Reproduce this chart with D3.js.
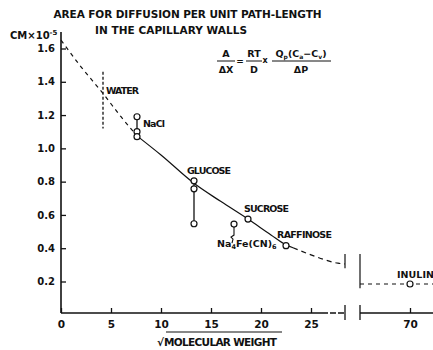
<!DOCTYPE html>
<html><head><meta charset="utf-8">
<script src="https://cdn.jsdelivr.net/npm/d3@7"></script>
<style>
body{margin:0;background:#fff;}
svg{display:block;}
text{font-family:"DejaVu Sans",sans-serif;font-weight:bold;fill:#111;}
</style></head>
<body>
<svg id="chart" width="433" height="350"></svg>
<script>
// ---- data ----
const titleLines = ["AREA FOR DIFFUSION PER UNIT PATH-LENGTH", "IN THE CAPILLARY WALLS"];
const yTicks = [0.2, 0.4, 0.6, 0.8, 1.0, 1.2, 1.4, 1.6];
const xTicksLeft = [0, 5, 10, 15, 20, 25];
const xTicksRight = [70];
const substances = ["NaCl", "GLUCOSE", "SUCROSE", "Na4Fe(CN)6", "RAFFINOSE", "INULIN"];
const sqrtMW = [7.6, 13.3, 18.7, 17.3, 22.5, 70];
const areaValues = [[1.19, 1.10, 1.07], [0.805, 0.757, 0.547], [0.575], [0.545], [0.415], [0.185]];
const waterX = 4.2;
const waterRange = [1.46, 1.12];
const curveDashedStart = [[0, 1.65], [2, 1.49], [4.2, 1.33], [6, 1.19], [7.6, 1.075]];
const curveSolid = [[7.6, 1.075], [10, 0.96], [13.3, 0.79], [16, 0.68], [18.7, 0.575], [21, 0.48], [22.5, 0.42], [23.2, 0.403]];
const curveDashedEnd = [[23.2, 0.403], [25, 0.36], [27.7, 0.31], [28.4, 0.305]];
const inulinLine = [[65, 0.185], [72.3, 0.185]];

const svg = d3.select("#chart");
const xL = d3.scaleLinear().domain([0, 28.4]).range([61, 345]);
const xR = d3.scaleLinear().domain([65, 72.3]).range([360, 433]);
const xAny = v => v > 40 ? xR(v) : xL(v);
const y = d3.scaleLinear().domain([0.2, 1.6]).range([281.5, 48.5]);
const axisY = 313;

// title
svg.append("text").attr("x", 187.5).attr("y", 18).attr("text-anchor", "middle")
  .attr("font-size", 10.5).attr("textLength", 268).attr("lengthAdjust", "spacing").text(titleLines[0]);
svg.append("text").attr("x", 171).attr("y", 34).attr("text-anchor", "middle")
  .attr("font-size", 10.5).attr("textLength", 152).attr("lengthAdjust", "spacing").text(titleLines[1]);

// y unit label
const yl = svg.append("text").attr("x", 10).attr("y", 39).attr("font-size", 10);
yl.append("tspan").text("CM×10");
yl.append("tspan").attr("font-size", 7).attr("dy", -4).text("-5");

// y axis
const gy = svg.append("g").attr("transform", "translate(61,0)")
  .call(d3.axisLeft(y).tickValues(yTicks).tickSize(-5).tickPadding(6).tickFormat(d3.format(".1f")));
gy.select(".domain").remove();
gy.selectAll("line").attr("stroke", "#111").attr("stroke-width", 1.3);
gy.selectAll("text").attr("font-size", 10).attr("font-family", "DejaVu Sans").attr("font-weight", "bold").attr("fill", "#111");
svg.append("line").attr("x1", 61).attr("x2", 61).attr("y1", 32).attr("y2", axisY).attr("stroke", "#111").attr("stroke-width", 1.6);

// x axis
const gxL = svg.append("g").attr("transform", `translate(0,${axisY})`)
  .call(d3.axisBottom(xL).tickValues(xTicksLeft).tickSize(-5).tickPadding(8));
const gxR = svg.append("g").attr("transform", `translate(0,${axisY})`)
  .call(d3.axisBottom(xR).tickValues(xTicksRight).tickSize(-5).tickPadding(8));
[gxL, gxR].forEach(g => {
  g.select(".domain").remove();
  g.selectAll("line").attr("stroke", "#111").attr("stroke-width", 1.3);
  g.selectAll("text").attr("font-size", 10.5).attr("font-family", "DejaVu Sans").attr("font-weight", "bold").attr("fill", "#111");
});
svg.append("line").attr("x1", 61).attr("x2", xL(26.1)).attr("y1", axisY).attr("y2", axisY).attr("stroke", "#111").attr("stroke-width", 1.6);
svg.append("line").attr("x1", xL(26.1)).attr("x2", xL(28.4)).attr("y1", axisY).attr("y2", axisY).attr("stroke", "#111").attr("stroke-width", 1.4).attr("stroke-dasharray", "6,2");
svg.append("line").attr("x1", xR(65)).attr("x2", 433).attr("y1", axisY).attr("y2", axisY).attr("stroke", "#111").attr("stroke-width", 1.6);
// axis break marks
[xL(28.4), xR(65)].forEach(px => {
  svg.append("line").attr("x1", px).attr("x2", px).attr("y1", axisY - 8).attr("y2", axisY + 7).attr("stroke", "#111").attr("stroke-width", 1.3);
});

// x axis title
const xt = svg.append("text").attr("x", 157).attr("y", 346).attr("font-size", 10.5);
xt.append("tspan").text("√");
xt.append("tspan").attr("textLength", 113).attr("lengthAdjust", "spacing").text("MOLECULAR WEIGHT");
svg.append("line").attr("x1", 166).attr("x2", 282).attr("y1", 332).attr("y2", 332).attr("stroke", "#111").attr("stroke-width", 1.2);

// curve
const line = d3.line().x(d => xL(d[0])).y(d => y(d[1])).curve(d3.curveMonotoneX);
svg.append("path").attr("d", line(curveDashedStart)).attr("fill", "none").attr("stroke", "#111").attr("stroke-width", 1.2).attr("stroke-dasharray", "4,4");
svg.append("path").attr("d", line(curveSolid)).attr("fill", "none").attr("stroke", "#111").attr("stroke-width", 1.2);
svg.append("path").attr("d", line(curveDashedEnd)).attr("fill", "none").attr("stroke", "#111").attr("stroke-width", 1.2).attr("stroke-dasharray", "5,4");
// curve break marks
svg.append("line").attr("x1", xL(28.4)).attr("x2", xL(28.4)).attr("y1", y(0.365)).attr("y2", y(0.28)).attr("stroke", "#111").attr("stroke-width", 1.2);
svg.append("line").attr("x1", xR(65)).attr("x2", xR(65)).attr("y1", y(0.365)).attr("y2", y(0.16)).attr("stroke", "#111").attr("stroke-width", 1.2);
// inulin dashed line
svg.append("path").attr("d", d3.line().x(d => xR(d[0])).y(d => y(d[1]))(inulinLine))
  .attr("fill", "none").attr("stroke", "#111").attr("stroke-width", 1.2).attr("stroke-dasharray", "4,4");

// water marker
svg.append("line").attr("x1", xL(waterX)).attr("x2", xL(waterX)).attr("y1", y(waterRange[0])).attr("y2", y(waterRange[1]))
  .attr("stroke", "#111").attr("stroke-width", 1.3).attr("stroke-dasharray", "3,2");
svg.append("text").attr("x", xL(waterX) + 3).attr("y", y(1.325)).attr("font-size", 9.5).attr("textLength", 33).attr("lengthAdjust", "spacing").text("WATER");

// vertical connectors for multi-value substances
substances.forEach((s, i) => {
  const vals = areaValues[i];
  if (vals.length > 1) {
    svg.append("line").attr("x1", xAny(sqrtMW[i])).attr("x2", xAny(sqrtMW[i]))
      .attr("y1", y(d3.max(vals))).attr("y2", y(d3.min(vals))).attr("stroke", "#111").attr("stroke-width", 1.3);
  }
});

// Na4Fe(CN)6 leader squiggle
const nx = xL(sqrtMW[3]), ny = y(areaValues[3][0]);
svg.append("path").attr("d", `M${nx},${ny + 3} L${nx},${ny + 11} L${nx - 3},${ny + 13} L${nx - 1},${ny + 15} L${nx - 2},${ny + 19}`)
  .attr("fill", "none").attr("stroke", "#111").attr("stroke-width", 1.1);

// points
substances.forEach((s, i) => {
  areaValues[i].forEach(v => {
    svg.append("circle").attr("cx", xAny(sqrtMW[i])).attr("cy", y(v)).attr("r", 3)
      .attr("fill", "#fff").attr("stroke", "#111").attr("stroke-width", 1.2);
  });
});

// substance labels
const labelOffsets = [[6, 10], [-7, -7], [-4, -7], [-17, 23], [-9, -8], [-13, -6]];
const labelWidths = [22, 44, 45, null, 55, 37];
substances.forEach((s, i) => {
  const px = xAny(sqrtMW[i]) + labelOffsets[i][0];
  const py = y(areaValues[i][0]) + labelOffsets[i][1];
  const t = svg.append("text").attr("x", px).attr("y", py).attr("font-size", 9.5);
  if (s === "Na4Fe(CN)6") {
    t.append("tspan").text("Na");
    t.append("tspan").attr("font-size", 6.5).attr("dy", 2).text("4");
    t.append("tspan").attr("dy", -2).text("Fe(CN)");
    t.append("tspan").attr("font-size", 6.5).attr("dy", 2).text("6");
  } else {
    t.attr("textLength", labelWidths[i]).attr("lengthAdjust", "spacing").text(s);
  }
});

// equation
const eq = svg.append("g").attr("font-size", 9.5);
function frac(cx, num, den, x1, x2) {
  const n = eq.append("text").attr("x", cx).attr("y", 57).attr("text-anchor", "middle").attr("font-size", 9.5);
  num(n);
  eq.append("line").attr("x1", x1).attr("x2", x2).attr("y1", 61).attr("y2", 61).attr("stroke", "#111").attr("stroke-width", 1);
  eq.append("text").attr("x", cx).attr("y", 73).attr("text-anchor", "middle").attr("font-size", 9.5).text(den);
}
frac(226, t => t.text("A"), "ΔX", 217, 235);
eq.append("text").attr("x", 240).attr("y", 64).attr("text-anchor", "middle").attr("font-size", 9).text("=");
frac(254, t => t.text("RT"), "D", 246, 262);
eq.append("text").attr("x", 265).attr("y", 63).attr("text-anchor", "middle").attr("font-size", 8).text("x");
frac(301, t => {
  t.append("tspan").text("Q");
  t.append("tspan").attr("font-size", 6).attr("dy", 2).text("p");
  t.append("tspan").attr("dy", -2).text("(C");
  t.append("tspan").attr("font-size", 6).attr("dy", 2).text("a");
  t.append("tspan").attr("dy", -2).text("−C");
  t.append("tspan").attr("font-size", 6).attr("dy", 2).text("v");
  t.append("tspan").attr("dy", -2).text(")");
}, "ΔP", 272, 331);
</script>
</body></html>
